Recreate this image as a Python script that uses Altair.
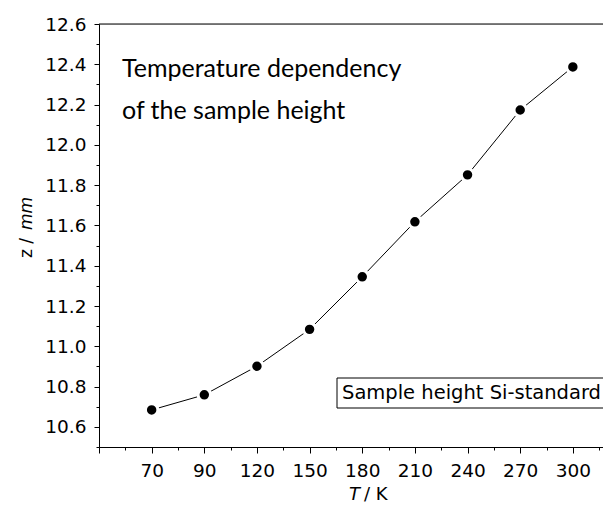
import altair as alt
import pandas as pd

# ---- data ----
temps = [70, 90, 120, 150, 180, 210, 240, 270, 300]
heights = [10.684, 10.759, 10.901, 11.084, 11.345, 11.618, 11.851, 12.173, 12.387]
x_labels = ["70", "90", "120", "150", "180", "210", "240", "270", "300"]
y_major = [10.6, 10.8, 11.0, 11.2, 11.4, 11.6, 11.8, 12.0, 12.2, 12.4, 12.6]
y_minor = [10.5, 10.7, 10.9, 11.1, 11.3, 11.5, 11.7, 11.9, 12.1, 12.3, 12.5]
annotation_lines = ["Temperature dependency", "of the sample height"]
legend_label = "Sample height Si-standard"

df = pd.DataFrame({"pos": list(range(len(temps))), "T": temps, "z": heights})

W, H = 504, 423
FONT = "DejaVu Sans"
STEP = 52.65
x_dom = [-1, -1 + W / STEP]
x_major = [-1] + list(range(len(temps)))
x_minor = [i + 0.5 for i in range(-1, len(temps))]
js_labels = "[" + ",".join("'" + s + "'" for s in x_labels) + "]"

xs = alt.Scale(domain=x_dom, nice=False, zero=False)
ys = alt.Scale(domain=[10.5, 12.6], nice=False, zero=False)

tick_common = dict(tickColor="black", tickWidth=1, grid=False, title=None)
label_common = dict(labelFont=FONT, labelFontSize=18.5, labelColor="black",
                    domainColor="black", domainWidth=1)

x_major_axis = alt.Axis(orient="bottom", values=x_major, tickSize=6, labelPadding=8,
                        labelExpr="datum.value < 0 ? '' : " + js_labels + "[datum.value]",
                        **tick_common, **label_common)
x_minor_axis = alt.Axis(orient="bottom", values=x_minor, tickSize=3, labels=False,
                        domain=False, **tick_common)
y_major_axis = alt.Axis(orient="left", values=y_major, tickSize=5, labelPadding=8,
                        format=".1f", **tick_common, **label_common)
y_minor_axis = alt.Axis(orient="left", values=y_minor, tickSize=3, labels=False,
                        domain=False, **tick_common)

base = alt.Chart(df)

line = base.mark_line(color="black", strokeWidth=1).encode(
    x=alt.X("pos:Q", scale=xs, axis=x_major_axis),
    y=alt.Y("z:Q", scale=ys, axis=y_major_axis),
)
points = base.mark_point(filled=True, fill="black", stroke="white", strokeWidth=3,
                         size=155, opacity=1, shape="circle").encode(
    x=alt.X("pos:Q", scale=xs, axis=x_minor_axis),
    y=alt.Y("z:Q", scale=ys, axis=y_minor_axis),
)

one = alt.Chart(pd.DataFrame({"a": [0]}))

top_border = one.mark_rule(color="black", strokeWidth=1).encode(
    x=alt.value(0), x2=alt.value(W), y=alt.value(0))

ann1 = one.mark_text(align="left", baseline="alphabetic", font="Lato", fontSize=25,
                     color="black").encode(x=alt.value(23), y=alt.value(53),
                                           text=alt.value(annotation_lines[0]))
ann2 = one.mark_text(align="left", baseline="alphabetic", font="Lato", fontSize=25,
                     color="black").encode(x=alt.value(23), y=alt.value(95),
                                           text=alt.value(annotation_lines[1]))

legend_box = one.mark_rect(fill="white", stroke="black", strokeWidth=1).encode(
    x=alt.value(238), x2=alt.value(W + 20), y=alt.value(354), y2=alt.value(384))
legend_text = one.mark_text(align="left", baseline="alphabetic", font=FONT, fontSize=19.5,
                            color="black").encode(x=alt.value(243), y=alt.value(375),
                                                  text=alt.value(legend_label))

xt1 = one.mark_text(align="right", baseline="alphabetic", font=FONT, fontSize=18,
                    fontStyle="italic", color="black").encode(
    x=alt.value(261), y=alt.value(476), text=alt.value("T"))
xt2 = one.mark_text(align="left", baseline="alphabetic", font=FONT, fontSize=18,
                    color="black").encode(
    x=alt.value(265), y=alt.value(476), text=alt.value("/ K"))

yt1 = one.mark_text(align="left", baseline="alphabetic", font=FONT, fontSize=17,
                    angle=270, color="black").encode(
    x=alt.value(-67), y=alt.value(234), text=alt.value("z /"))
yt2 = one.mark_text(align="left", baseline="alphabetic", font=FONT, fontSize=17,
                    angle=270, fontStyle="italic", color="black").encode(
    x=alt.value(-67), y=alt.value(206), text=alt.value("mm"))

chart = alt.layer(
    line, points, top_border, ann1, ann2, legend_box, legend_text, xt1, xt2, yt1, yt2
).resolve_axis(x="independent", y="independent").properties(
    width=W, height=H,
    autosize=alt.AutoSizeParams(type="none"),
    padding={"left": 91, "top": 16, "right": 0, "bottom": 60},
).configure_view(stroke=None).configure(background="white")

chart.save("out.html", embed_options={"renderer": "svg", "actions": False})
